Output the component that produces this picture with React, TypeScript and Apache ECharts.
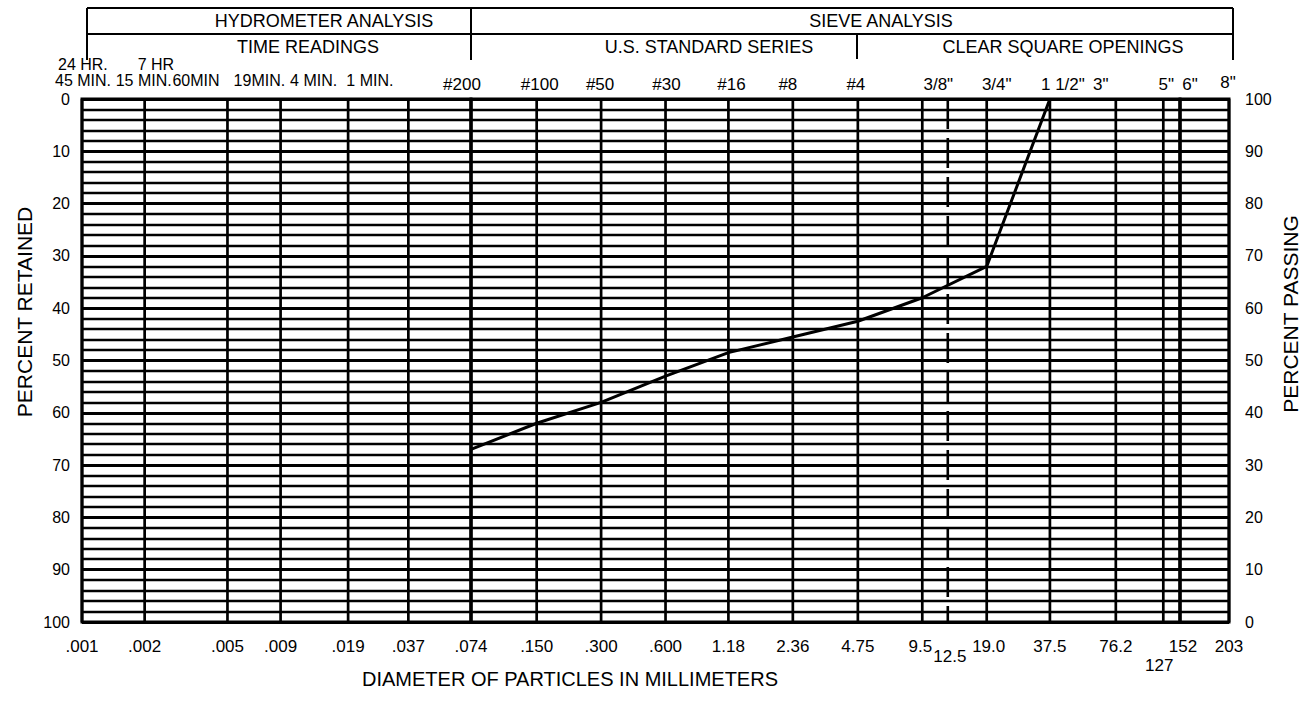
import React, { useEffect, useRef } from 'react';
import * as echarts from 'echarts';

const FONT = '"Liberation Sans", Arial, Helvetica, sans-serif';

// ---- Hydrometer section (diameters in mm) ----
const hydroSizes = [0.001, 0.002, 0.005, 0.009, 0.019, 0.037];
const hydroLabels = ['.001', '.002', '.005', '.009', '.019', '.037'];
const timeReadingsHours = ['24 HR.', '7 HR', '', '', '', ''];
const timeReadingsMinutes = ['45 MIN.', '15 MIN.', '60MIN', '19MIN.', '4 MIN.', '1 MIN.'];

// ---- Sieve section ----
const sieveSizes = [0.074, 0.15, 0.3, 0.6, 1.18, 2.36, 4.75, 9.5, 12.5, 19.0, 37.5, 76.2, 127, 152];
const sieveLabels = ['.074', '.150', '.300', '.600', '1.18', '2.36', '4.75', '9.5', '12.5', '19.0', '37.5', '76.2', '127', '152'];
const sieveNames = ['#200', '#100', '#50', '#30', '#16', '#8', '#4', '3/8"', '', '3/4"', '1 1/2"', '3"', '5"', '6"'];
const endSizes = [203];
const endLabels = ['203'];
const endNames = ['8"'];

// ---- Gradation curve ----
const testSizes = [0.074, 0.15, 0.3, 0.6, 1.18, 2.36, 4.75, 9.5, 19.0, 37.5];
const percentRetained = [67, 62, 58, 53, 48.5, 45.5, 42.5, 38, 32, 0];

// ---- layout (label nudges, px) ----
const hydroTimeShift = [-27, -29, -55, -47, -58, -62];
const hydroHourShift = [-24, -7, 0, 0, 0, 0];
const sieveNameShift = [-9, 3, -1, 1, 3, -5, -2, 16, 0, 10, 13, -15, 3, 10];
const sieveLabelDrop = [0, 0, 0, 0, 0, 0, 0, 0, 10, 0, 0, 0, 19, 0];
const sieveLabelShift = [0, 0, 0, 0, 0, 0, 0, -2, 2, 2, 0, 0, -4, 3];
const dashedSizes = [12.5];

const GRID_TOP = 99;
const GRID_H = 523;

type RenderCfg = {
  labels: string[];
  labelShift?: number[];
  names?: string[];
  nameShift?: number[];
  nameDy?: number;
  nameSize?: number;
  drop?: number[];
  hours?: string[];
  hourShift?: number[];
  hourDy?: number;
  nameAlignLeft?: boolean;
};

function makeRender(cfg: RenderCfg) {
  return (params: any, api: any) => {
    const i = params.dataIndex;
    const v = api.value(0);
    const top = api.coord([v, 0]);
    const bot = api.coord([v, 100]);
    const dashed = dashedSizes.indexOf(v) >= 0;
    const children: any[] = [
      {
        type: 'line',
        shape: { x1: top[0], y1: top[1], x2: bot[0], y2: bot[1] },
        style: { stroke: '#000', lineWidth: dashed ? 2.6 : 2.7, lineDash: dashed ? [30, 9] : null },
      },
      {
        type: 'text',
        x: bot[0] + (cfg.labelShift ? cfg.labelShift[i] : 0),
        y: bot[1] + 24 + (cfg.drop ? cfg.drop[i] : 0),
        style: { text: cfg.labels[i], fill: '#000', font: `17px ${FONT}`, align: 'center', verticalAlign: 'middle' },
      },
    ];
    if (cfg.names && cfg.names[i]) {
      children.push({
        type: 'text',
        x: top[0] + (cfg.nameShift ? cfg.nameShift[i] : 0),
        y: top[1] - (cfg.nameDy ?? 15),
        style: {
          text: cfg.names[i],
          fill: '#000',
          font: `${cfg.nameSize ?? 17}px ${FONT}`,
          align: cfg.nameAlignLeft ? 'left' : 'center',
          verticalAlign: 'middle',
        },
      });
    }
    if (cfg.hours && cfg.hours[i]) {
      children.push({
        type: 'text',
        x: top[0] + (cfg.hourShift ? cfg.hourShift[i] : 0),
        y: top[1] - (cfg.hourDy ?? 35),
        style: { text: cfg.hours[i], fill: '#000', font: `${cfg.nameSize ?? 17}px ${FONT}`, align: 'left', verticalAlign: 'middle' },
      });
    }
    return { type: 'group', children };
  };
}

const hiddenX = (gridIndex: number, min: number, max: number) => ({
  gridIndex,
  type: 'log',
  logBase: 10,
  min,
  max,
  axisLine: { show: false },
  axisTick: { show: false },
  axisLabel: { show: false },
  splitLine: { show: false },
});

const gridY = (gridIndex: number, showLabel: boolean) => ({
  gridIndex,
  type: 'value',
  inverse: true,
  min: 0,
  max: 100,
  interval: 10,
  axisLine: { show: false },
  axisTick: { show: false },
  axisLabel: { show: showLabel, color: '#000', fontSize: 16, fontFamily: FONT, margin: 12 },
  splitLine: { show: true, lineStyle: { color: '#000', width: 2.8 } },
  minorTick: { show: false, splitNumber: 5 },
  minorSplitLine: { show: true, lineStyle: { color: '#000', width: 2.3 } },
});

const headerLine = (x1: number, y1: number, x2: number, y2: number) => ({
  type: 'line',
  shape: { x1, y1, x2, y2 },
  style: { stroke: '#000', lineWidth: 2 },
  silent: true,
});

const headerText = (text: string, x: number, y: number, size = 18, rotation = 0) => ({
  type: 'text',
  x,
  y,
  rotation,
  style: { text, fill: '#000', font: `${size}px ${FONT}`, align: 'center', verticalAlign: 'middle' },
  silent: true,
});

export default function App() {
  const ref = useRef<HTMLDivElement>(null);

  useEffect(() => {
    if (!ref.current) return;
    const chart = echarts.init(ref.current, undefined, { renderer: 'svg' });
    const option: any = {
      animation: false,
      backgroundColor: '#fff',
      textStyle: { fontFamily: FONT },
      grid: [
        { left: 82, top: GRID_TOP, width: 389, height: GRID_H, show: true, borderColor: '#000', borderWidth: 3, backgroundColor: 'transparent' },
        { left: 471, top: GRID_TOP, width: 709, height: GRID_H, show: true, borderColor: '#000', borderWidth: 3, backgroundColor: 'transparent' },
        { left: 1180, top: GRID_TOP, width: 49, height: GRID_H, show: true, borderColor: '#000', borderWidth: 3, backgroundColor: 'transparent' },
      ],
      xAxis: [hiddenX(0, 0.001, 0.074), hiddenX(1, 0.074, 152), hiddenX(2, 152, 203)],
      yAxis: [
        gridY(0, true),
        gridY(1, false),
        gridY(2, false),
        {
          gridIndex: 2,
          type: 'value',
          position: 'right',
          min: 0,
          max: 100,
          interval: 10,
          axisLine: { show: false },
          axisTick: { show: false },
          splitLine: { show: false },
          axisLabel: { show: true, color: '#000', fontSize: 16, fontFamily: FONT, margin: 16 },
        },
      ],
      series: [
        {
          type: 'custom',
          xAxisIndex: 0,
          yAxisIndex: 0,
          clip: false,
          silent: true,
          encode: { x: 0, y: 1 },
          data: hydroSizes.map((s) => [s, 0]),
          renderItem: makeRender({
            labels: hydroLabels,
            names: timeReadingsMinutes,
            nameShift: hydroTimeShift,
            nameDy: 19,
            nameSize: 16,
            hours: timeReadingsHours,
            hourShift: hydroHourShift,
            hourDy: 35,
            nameAlignLeft: true,
          }),
          z: 3,
        },
        {
          type: 'custom',
          xAxisIndex: 1,
          yAxisIndex: 1,
          clip: false,
          silent: true,
          encode: { x: 0, y: 1 },
          data: sieveSizes.map((s) => [s, 0]),
          renderItem: makeRender({
            labels: sieveLabels,
            labelShift: sieveLabelShift,
            names: sieveNames,
            nameShift: sieveNameShift,
            nameDy: 15,
            drop: sieveLabelDrop,
          }),
          z: 3,
        },
        {
          type: 'custom',
          xAxisIndex: 2,
          yAxisIndex: 2,
          clip: false,
          silent: true,
          encode: { x: 0, y: 1 },
          data: endSizes.map((s) => [s, 0]),
          renderItem: makeRender({ labels: endLabels, names: endNames, nameShift: [-1], nameDy: 17 }),
          z: 3,
        },
        {
          type: 'line',
          xAxisIndex: 1,
          yAxisIndex: 1,
          data: testSizes.map((s, i) => [s, percentRetained[i]]),
          symbol: 'none',
          lineStyle: { color: '#000', width: 3 },
          z: 5,
        },
      ],
      graphic: [
        headerLine(87, 8, 1233, 8),
        headerLine(87, 34, 1233, 34),
        headerLine(87, 8, 87, 60),
        headerLine(471, 8, 471, 60),
        headerLine(857, 34, 857, 59),
        headerLine(1233, 8, 1233, 60),
        headerText('HYDROMETER ANALYSIS', 324, 21),
        headerText('TIME READINGS', 308, 47),
        headerText('SIEVE ANALYSIS', 881, 21),
        headerText('U.S. STANDARD SERIES', 709, 47),
        headerText('CLEAR SQUARE OPENINGS', 1063, 47),
        headerText('PERCENT RETAINED', 24, 312, 21, Math.PI / 2),
        headerText('PERCENT PASSING', 1290, 314, 21, Math.PI / 2),
        headerText('DIAMETER OF PARTICLES IN MILLIMETERS', 570, 679, 20),
      ],
    };
    chart.setOption(option);
    return () => chart.dispose();
  }, []);

  return (
    <div
      ref={ref}
      style={{ position: 'fixed', left: 0, top: 0, width: 1311, height: 702, background: '#fff' }}
    />
  );
}
